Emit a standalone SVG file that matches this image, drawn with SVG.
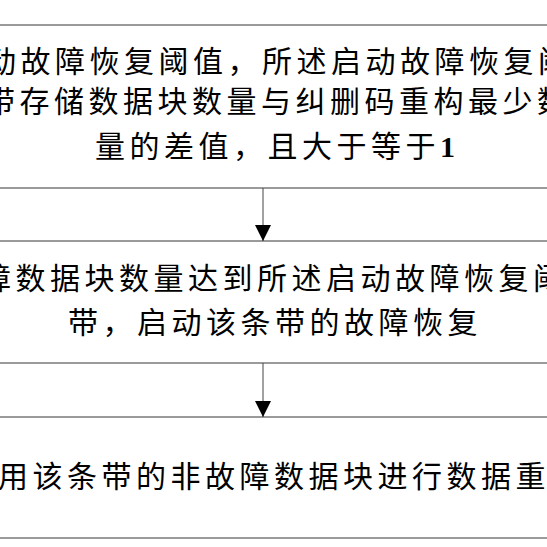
<svg xmlns="http://www.w3.org/2000/svg" width="547" height="547" viewBox="0 0 547 547">
<defs>
<style>
.box{fill:#fff;stroke:#7a7a7a;stroke-width:1.5}
.t{font-family:"Noto Sans CJK SC","Liberation Serif",serif;font-size:30px;letter-spacing:4.5px;fill:#000}
.num{font-family:"Liberation Serif",serif;font-weight:bold}
.conn{stroke:#444;stroke-width:1;fill:none}
</style>
<marker id="ah" viewBox="0 0 16 16" refX="16" refY="8" markerWidth="16" markerHeight="16" markerUnits="userSpaceOnUse" orient="auto">
<path d="M0,0 L16,8 L0,16 Z" fill="#000"/>
</marker>
</defs>
<rect width="547" height="547" fill="#fff"/>
<g id="node1">
<rect class="box" x="-10" y="25" width="567" height="163"/>
<text class="t" x="-14" y="72">动故障恢复阈值，所述启动故障恢复阈</text>
<text class="t" x="-15" y="112">带存储数据块数量与纠删码重构最少数</text>
<text class="t" x="95" y="157">量的差值，且大于等于<tspan class="num">1</tspan></text>
</g>
<g id="node2">
<rect class="box" x="-10" y="241" width="567" height="122"/>
<text class="t" x="-19" y="289">障数据块数量达到所述启动故障恢复阈</text>
<text class="t" x="68" y="333">带，启动该条带的故障恢复</text>
</g>
<g id="node3">
<rect class="box" x="-10" y="417" width="567" height="121"/>
<text class="t" x="-2" y="487">用该条带的非故障数据块进行数据重</text>
</g>
<g id="connectors">
<line class="conn" x1="263" y1="188" x2="263" y2="241" marker-end="url(#ah)"/>
<line class="conn" x1="263" y1="363" x2="263" y2="417" marker-end="url(#ah)"/>
</g>
</svg>
